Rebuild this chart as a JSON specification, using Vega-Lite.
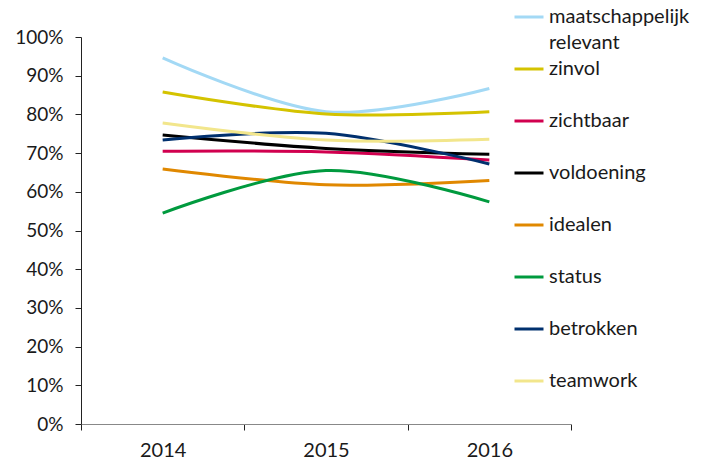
{
  "$schema": "https://vega.github.io/schema/vega-lite/v6.json",
  "width": 490,
  "height": 387,
  "autosize": "none",
  "padding": {"left": 81, "top": 37, "right": 146, "bottom": 39},
  "background": "white",
  "config": {
    "view": {"stroke": null},
    "font": "Lato",
    "axis": {"labelFont": "Lato", "labelColor": "#1a1a1a", "grid": false, "title": null}
  },
  "data": {
    "values": [
      {"jaar": "2014", "item": "maatschappelijk relevant", "waarde": 0.946},
      {"jaar": "2015", "item": "maatschappelijk relevant", "waarde": 0.807},
      {"jaar": "2016", "item": "maatschappelijk relevant", "waarde": 0.867},
      {"jaar": "2014", "item": "zinvol", "waarde": 0.858},
      {"jaar": "2015", "item": "zinvol", "waarde": 0.801},
      {"jaar": "2016", "item": "zinvol", "waarde": 0.807},
      {"jaar": "2014", "item": "zichtbaar", "waarde": 0.705},
      {"jaar": "2015", "item": "zichtbaar", "waarde": 0.703},
      {"jaar": "2016", "item": "zichtbaar", "waarde": 0.682},
      {"jaar": "2014", "item": "voldoening", "waarde": 0.747},
      {"jaar": "2015", "item": "voldoening", "waarde": 0.712},
      {"jaar": "2016", "item": "voldoening", "waarde": 0.697},
      {"jaar": "2014", "item": "idealen", "waarde": 0.659},
      {"jaar": "2015", "item": "idealen", "waarde": 0.618},
      {"jaar": "2016", "item": "idealen", "waarde": 0.629},
      {"jaar": "2014", "item": "status", "waarde": 0.545},
      {"jaar": "2015", "item": "status", "waarde": 0.655},
      {"jaar": "2016", "item": "status", "waarde": 0.574},
      {"jaar": "2014", "item": "betrokken", "waarde": 0.734},
      {"jaar": "2015", "item": "betrokken", "waarde": 0.751},
      {"jaar": "2016", "item": "betrokken", "waarde": 0.672},
      {"jaar": "2014", "item": "teamwork", "waarde": 0.778},
      {"jaar": "2015", "item": "teamwork", "waarde": 0.734},
      {"jaar": "2016", "item": "teamwork", "waarde": 0.736}
    ]
  },
  "mark": {"type": "line", "interpolate": "cardinal", "strokeWidth": 3},
  "encoding": {
    "x": {
      "field": "jaar",
      "type": "ordinal",
      "scale": {"type": "band", "paddingInner": 0, "paddingOuter": 0},
      "axis": {
        "labelAngle": 0,
        "tickBand": "extent",
        "tickSize": 6,
        "tickColor": "#222",
        "domainColor": "#888",
        "labelFontSize": 20,
        "labelPadding": 10
      }
    },
    "y": {
      "field": "waarde",
      "type": "quantitative",
      "scale": {"domain": [0, 1], "nice": false},
      "axis": {
        "values": [0, 0.1, 0.2, 0.3, 0.4, 0.5, 0.6, 0.7, 0.8, 0.9, 1],
        "format": ".0%",
        "tickSize": 6,
        "tickColor": "#222",
        "domainColor": "#222",
        "labelFontSize": 19,
        "labelPadding": 12
      }
    },
    "color": {
      "field": "item",
      "type": "nominal",
      "scale": {
        "domain": ["maatschappelijk relevant", "zinvol", "zichtbaar", "voldoening", "idealen", "status", "betrokken", "teamwork"],
        "range": ["#a3d9f5", "#d4c300", "#d1004f", "#000000", "#e08800", "#009a3e", "#00306e", "#f2e68c"]
      },
      "legend": {
        "title": null,
        "orient": "none",
        "legendX": 432,
        "legendY": -36,
        "padding": 0,
        "symbolType": "stroke",
        "symbolSize": 841,
        "symbolStrokeWidth": 3,
        "labelFontSize": 20,
        "labelFont": "Lato",
        "labelColor": "#1a1a1a",
        "labelOffset": 4,
        "labelLimit": 300,
        "rowPadding": 0,
        "gridAlign": "all",
        "labelExpr": "datum.label == 'maatschappelijk relevant' ? ['maatschappelijk', 'relevant'] : datum.label",
        "encode": {
          "labels": {
            "update": {
              "lineHeight": {"value": 25.6}
            }
          }
        }
      }
    }
  }
}
